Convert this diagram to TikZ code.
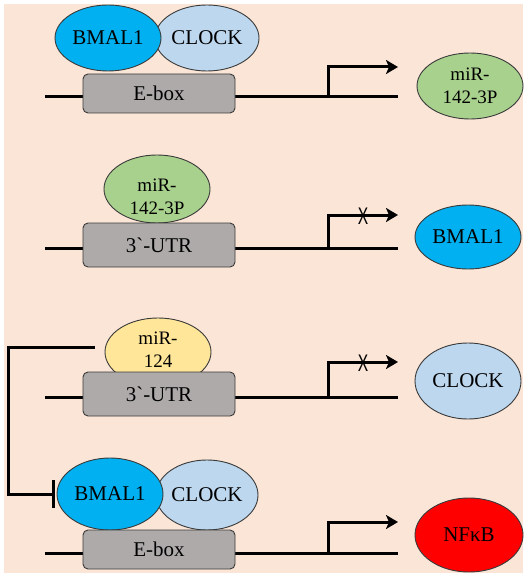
\documentclass[tikz,border=0pt]{standalone}
\usepackage{fontspec}
\setmainfont{Liberation Serif}[Ligatures=TeXOff]
\newfontfamily\xsans{Liberation Sans}
\usetikzlibrary{shapes.geometric,arrows.meta}
\definecolor{peach}{HTML}{FBE5D6}
\definecolor{bmalc}{HTML}{00B0F0}
\definecolor{clockc}{HTML}{BDD7EE}
\definecolor{mirg}{HTML}{A9D18E}
\definecolor{miry}{HTML}{FFE699}
\definecolor{boxg}{HTML}{AEAAAA}
\definecolor{outl}{HTML}{3A3A3A}
\tikzset{
  blob/.style={ellipse,draw=outl,line width=0.9pt,inner sep=0pt},
  site/.style={draw=outl,line width=0.9pt,rounded corners=5pt,fill=boxg,minimum width=152pt,inner sep=0pt},
  dna/.style={line width=3pt},
  prom/.style={line width=3pt,-{Stealth[length=12pt,width=14pt,inset=3pt]}},
  inhib/.style={line width=3pt,-{Bar[width=28pt,line width=3pt]}},
  big/.style={font=\fontsize{21}{23}\selectfont},
  small/.style={font=\fontsize{19}{23}\selectfont,align=center},
  xmark/.style={font=\xsans\fontsize{24}{24}\selectfont,xscale=0.65,inner sep=0pt}
}
\begin{document}
\begin{tikzpicture}[x=1pt,y=-1pt]
\useasboundingbox (0,0) rectangle (527,577);
\fill[peach] (4,4) rectangle (523,573);

% ---------- Row 1 ----------
\coordinate (l1a) at (45,97);
\coordinate (l1b) at (398,97);
\coordinate (p1) at (328,97);
\coordinate (p1t) at (328,67);
\coordinate (p1e) at (398,67);
\draw[dna] (l1a) -- (l1b);
\node[blob,fill=clockc,minimum width=104pt,minimum height=66pt] (ck1) at (207,38) {};
\node[big] at (ck1.center) {CLOCK};
\node[blob,fill=bmalc,minimum width=106pt,minimum height=66pt] (bm1) at (108,38) {};
\node[big] at (bm1.center) {BMAL1};
\node[site,minimum height=39pt,big] (eb1) at (159,93.5) {E-box};
\draw[prom] (p1) -- (p1t) -- (p1e);
\node[blob,fill=mirg,minimum width=106pt,minimum height=66pt,small] (t1) at (470,86) {miR-\\142-3P};

% ---------- Row 2 ----------
\coordinate (l2a) at (45,248);
\coordinate (l2b) at (398,248);
\coordinate (p2) at (328,248);
\coordinate (p2t) at (328,215);
\coordinate (p2e) at (398,215);
\draw[dna] (l2a) -- (l2b);
\node[blob,fill=mirg,minimum width=106pt,minimum height=68pt] (m2) at (157,189) {};
\node[small] at (157,197) {miR-\\142-3P};
\node[site,minimum height=44pt,big] (u2) at (159,245) {3`-UTR};
\draw[prom] (p2) -- (p2t) -- (p2e);
\node[xmark] (x2) at (363,216) {X};
\node[blob,fill=bmalc,minimum width=106pt,minimum height=64pt,big] (t2) at (468,237) {BMAL1};

% ---------- Row 3 ----------
\coordinate (l3a) at (45,397);
\coordinate (l3b) at (398,397);
\coordinate (p3) at (328,397);
\coordinate (p3t) at (328,362);
\coordinate (p3e) at (398,362);
\draw[dna] (l3a) -- (l3b);
\node[blob,fill=miry,minimum width=106pt,minimum height=68pt] (m3) at (158,352) {};
\node[small] at (158,350) {miR-\\124};
\node[site,minimum height=44pt,big] (u3) at (159,394) {3`-UTR};
\draw[prom] (p3) -- (p3t) -- (p3e);
\node[xmark] (x3) at (363,363) {X};
\node[blob,fill=clockc,minimum width=106pt,minimum height=76pt,big] (t3) at (468,381) {CLOCK};

% ---------- Row 4 ----------
\coordinate (l4a) at (45,553);
\coordinate (l4b) at (398,553);
\coordinate (p4) at (328,553);
\coordinate (p4t) at (328,522);
\coordinate (p4e) at (398,522);
\draw[dna] (l4a) -- (l4b);
\node[blob,fill=clockc,minimum width=102pt,minimum height=70pt] (ck4) at (207,495) {};
\node[big] at (ck4.center) {CLOCK};
\node[blob,fill=bmalc,minimum width=106pt,minimum height=72pt] (bm4) at (110,494) {};
\node[big] at (bm4.center) {BMAL1};
\node[site,minimum height=39pt,big] (eb4) at (159,549.5) {E-box};
\draw[prom] (p4) -- (p4t) -- (p4e);
\node[blob,fill=red,minimum width=108pt,minimum height=74pt,big] (t4) at (469,535) {NFκB};

% ---------- inhibition ----------
\coordinate (inh) at (95,347);
\draw[inhib] (inh) -- (8,347) |- ([xshift=-2pt]bm4.west);
\end{tikzpicture}
\end{document}
